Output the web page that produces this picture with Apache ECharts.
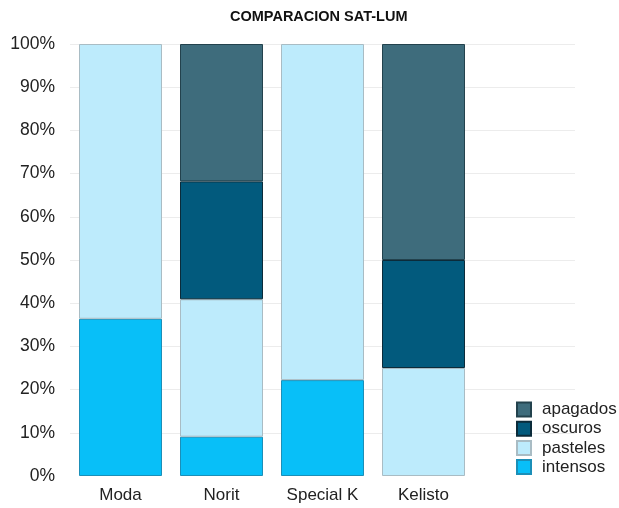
<!DOCTYPE html>
<html>
<head>
<meta charset="utf-8">
<script src="https://cdn.jsdelivr.net/npm/echarts@6/dist/echarts.min.js"></script>
<style>html,body{margin:0;padding:0;background:#fff}#c{width:619px;height:508px}</style>
</head>
<body>
<div id="c"></div>
<script>
var categories = ['Moda', 'Norit', 'Special K', 'Kelisto', ''];
var intensos = [36.4, 9.1, 22.2, '-', '-'];
var pasteles = [63.6, 31.8, 77.8, 25, '-'];
var oscuros = ['-', 27.3, '-', 25, '-'];
var apagados = ['-', 31.8, '-', 50, '-'];
var yTicks = [0, 10, 20, 30, 40, 50, 60, 70, 80, 90, 100];

var font = "'Liberation Sans', Arial, Helvetica, sans-serif";
function mk(name, data, color, border) {
  return {
    name: name, type: 'bar', stack: 'total', data: data, barWidth: 83,
    itemStyle: { color: color, borderColor: border, borderWidth: 1 },
    emphasis: { disabled: true }
  };
}
var chart = echarts.init(document.getElementById('c'));
chart.setOption({
  animation: false,
  title: { text: 'COMPARACION SAT-LUM', left: 230, top: 4, padding: [5, 0, 5, 0],
    textStyle: { fontFamily: font, fontSize: 14.5, fontWeight: 'bold', color: '#111' } },
  grid: { left: 70, right: 44, top: 44, bottom: 32 },
  legend: {
    orient: 'vertical', left: 511, top: 396, itemWidth: 14, itemHeight: 14, itemGap: 2.2,
    icon: 'rect',
    data: ['apagados', 'oscuros', 'pasteles', 'intensos'],
    textStyle: { fontFamily: font, fontSize: 17, color: '#222', padding: [0, 0, 0, 6] }
  },
  xAxis: {
    type: 'category', data: categories,
    axisLine: { show: false }, axisTick: { show: false },
    axisLabel: { fontFamily: font, fontSize: 17, color: '#222', margin: 11 }
  },
  yAxis: {
    type: 'value', min: 0, max: 100, interval: 10,
    axisLine: { show: false }, axisTick: { show: false },
    axisLabel: { fontFamily: font, fontSize: 17.5, color: '#222', margin: 15,
      formatter: function (v) { return yTicks.indexOf(v) >= 0 ? v + '%' : ''; } },
    splitLine: { showMinLine: false, lineStyle: { color: '#ececec', width: 1 } }
  },
  series: [
    mk('intensos', intensos, '#08bff8', '#1b8fb8'),
    mk('pasteles', pasteles, '#bdebfc', '#a9bcc4'),
    mk('oscuros', oscuros, '#025a7d', '#0b2b3a'),
    mk('apagados', apagados, '#3e6c7c', '#23424d')
  ]
});
</script>
</body>
</html>
